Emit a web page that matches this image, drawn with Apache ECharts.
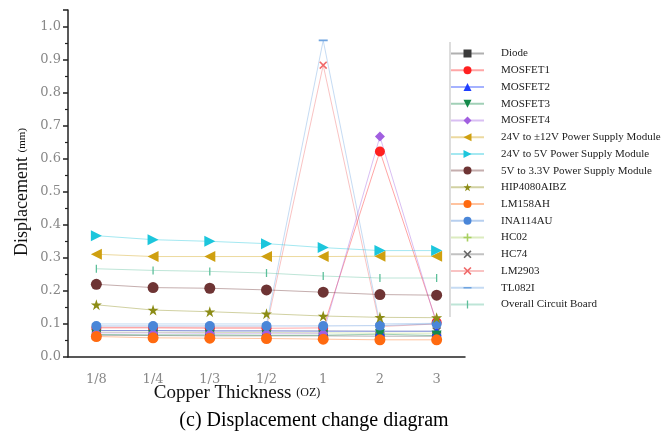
<!DOCTYPE html>
<html><head><meta charset="utf-8">
<script src="https://cdn.jsdelivr.net/npm/echarts@6/dist/echarts.min.js"></script>
<style>html,body{margin:0;padding:0;background:#fff}#c{width:665px;height:440px}</style>
</head><body><div id="c"></div>
<script>
var categories = ['1/8','1/4','1/3','1/2','1','2','3'];
var yTicks = [0,0.1,0.2,0.3,0.4,0.5,0.6,0.7,0.8,0.9,1.0];
var diode   = [0.066,0.065,0.064,0.064,0.064,0.063,0.063];
var mosfet1 = [0.088,0.088,0.087,0.087,0.088,0.622,0.105];
var mosfet2 = [0.080,0.080,0.079,0.079,0.078,0.078,0.078];
var mosfet3 = [0.068,0.067,0.067,0.066,0.066,0.069,0.065];
var mosfet4 = [0.073,0.073,0.072,0.072,0.072,0.667,0.100];
var v24to12 = [0.311,0.304,0.304,0.304,0.304,0.305,0.305];
var v24to5  = [0.367,0.355,0.350,0.343,0.331,0.322,0.322];
var v5to33  = [0.220,0.210,0.208,0.203,0.196,0.189,0.187];
var hip4080 = [0.158,0.142,0.137,0.131,0.124,0.120,0.119];
var lm158   = [0.062,0.058,0.057,0.056,0.054,0.052,0.052];
var ina114  = [0.094,0.094,0.094,0.094,0.094,0.095,0.100];
var hc02    = [0.075,0.075,0.074,0.074,0.073,0.072,0.072];
var hc74    = [0.080,0.080,0.079,0.079,0.079,0.078,0.078];
var lm2903  = [0.090,0.090,0.090,0.090,0.883,0.092,0.100];
var tl082i  = [0.100,0.100,0.100,0.100,0.958,0.100,0.102];
var overall = [0.267,0.262,0.259,0.254,0.245,0.239,0.239];

var names = ['Diode','MOSFET1','MOSFET2','MOSFET3','MOSFET4','24V to \u00b112V Power Supply Module','24V to 5V Power Supply Module','5V to 3.3V Power Supply Module','HIP4080AIBZ','LM158AH','INA114AU','HC02','HC74','LM2903','TL082I','Overall Circuit Board'];
var values = [diode,mosfet1,mosfet2,mosfet3,mosfet4,v24to12,v24to5,v5to33,hip4080,lm158,ina114,hc02,hc74,lm2903,tl082i,overall];

var STAR = 'path://M5,0 L6.2,3.6 L10,3.6 L6.9,5.8 L8.1,9.5 L5,7.2 L1.9,9.5 L3.1,5.8 L0,3.6 L3.8,3.6 Z';
var XMARK = 'path://M1.4,0 L5,3.6 L8.6,0 L10,1.4 L6.4,5 L10,8.6 L8.6,10 L5,6.4 L1.4,10 L0,8.6 L3.6,5 L0,1.4 Z';
var DASH = 'path://M0,4.1H10V5.9H0Z M5,0 L5.01,0 L5.01,0.01Z M5,10 L5.01,10 L5.01,9.99Z';
var VBAR = 'path://M4.2,0H5.8V10H4.2Z M0,5 L0.01,5 L0.01,5.01Z M10,5 L9.99,5 L9.99,5.01Z';
var styles = [
  {c:'#3a3a3a', s:'rect', z:8},
  {c:'#ff2020', s:'circle', z:10},
  {c:'#1f3fff', s:'triangle', z:10},
  {c:'#138a4a', s:'path://M0,0 L10,0 L5,10 Z', z:10},
  {c:'#a15fe0', s:'diamond', z:10},
  {c:'#cfa010', s:'path://M10,0 L0,5 L10,10 Z', z:11},
  {c:'#1cc6dc', s:'path://M0,0 L10,5 L0,10 Z', z:11},
  {c:'#6e3434', s:'circle', z:11},
  {c:'#8c8c16', s:STAR, z:11},
  {c:'#ff6a10', s:'circle', z:10},
  {c:'#4a86d8', s:'circle', z:10},
  {c:'#a8d060', s:'path://M4,0H6V4H10V6H6V10H4V6H0V4H4Z', z:9},
  {c:'#666666', s:XMARK, z:9},
  {c:'#f06a6a', s:XMARK, z:9},
  {c:'#6fa4e0', s:DASH, z:9},
  {c:'#5cbf9a', s:VBAR, z:9}
];
var sizes = [9,10,10,10,10,11,11,11,11,11,10,8,9,8,9,8];

var series = names.map(function(n,i){
  return {
    name:n, type:'line', data:values[i],
    symbol:styles[i].s, symbolSize:sizes[i], showAllSymbol:true,
    itemStyle:{color:styles[i].c},
    lineStyle:{color:styles[i].c, width:1, opacity:0.4},
    z:styles[i].z, animation:false
  };
});

var chart = echarts.init(document.getElementById('c'));
chart.setOption({
  animation:false,
  backgroundColor:'#fff',
  grid:{left:68, right:200, top:10, bottom:83},
  xAxis:[{
    type:'category', data:categories, boundaryGap:true,
    axisLine:{lineStyle:{color:'#222', width:1.5}},
    axisTick:{alignWithLabel:true, length:5, lineStyle:{color:'#222', width:1.5}},
    axisLabel:{color:'#888', fontFamily:'DejaVu Serif', fontSize:13, margin:16},
    splitLine:{show:false}
  },{
    type:'category', data:categories, boundaryGap:true, position:'bottom',
    axisLine:{show:false},
    axisTick:{alignWithLabel:false, length:3, lineStyle:{color:'#222', width:1.2}},
    axisLabel:{show:false}, splitLine:{show:false}
  }],
  yAxis:{
    type:'value', min:0, max:1.05, interval:0.1,
    axisLine:{show:true, lineStyle:{color:'#222', width:1.5}},
    axisTick:{show:true, length:5, lineStyle:{color:'#222', width:1.5}},
    minorTick:{show:true, splitNumber:2, length:3, lineStyle:{color:'#222', width:1.2}},
    axisLabel:{color:'#888', fontFamily:'DejaVu Serif', fontSize:13, margin:7, showMaxLabel:false,
      formatter:function(v){ return v.toFixed(1); }},
    splitLine:{show:false}, minorSplitLine:{show:false}
  },
  legend:{
    orient:'vertical', left:450, top:48, padding:0,
    itemWidth:33, itemHeight:10, itemGap:5.73,
    data:names,
    textStyle:{fontFamily:'Liberation Serif', fontSize:11, lineHeight:10, color:'#222', padding:[0,0,0,12]}
  },
  graphic:[
    {type:'line', shape:{x1:450, y1:42, x2:450, y2:317}, style:{stroke:'#bbb', lineWidth:1}},
    {type:'text', x:22, y:192, rotation:Math.PI/2, style:{
      rich:{a:{fontFamily:'Liberation Serif', fontSize:18, fill:'#111'}, b:{fontFamily:'Liberation Serif', fontSize:11, fill:'#111'}},
      text:'{a|Displacement }{b|(mm)}', align:'center', verticalAlign:'middle'}},
    {type:'text', x:237, y:393, style:{
      rich:{a:{fontFamily:'Liberation Serif', fontSize:19, fill:'#111'}, b:{fontFamily:'Liberation Serif', fontSize:12, fill:'#111'}},
      text:'{a|Copper Thickness }{b|(OZ)}', align:'center', verticalAlign:'middle'}},
    {type:'text', x:314, y:421, style:{
      text:'(c) Displacement change diagram', fontFamily:'Liberation Serif', fontSize:20, fill:'#000',
      align:'center', verticalAlign:'middle'}}
  ],
  series:series
});
</script>
</body></html>
